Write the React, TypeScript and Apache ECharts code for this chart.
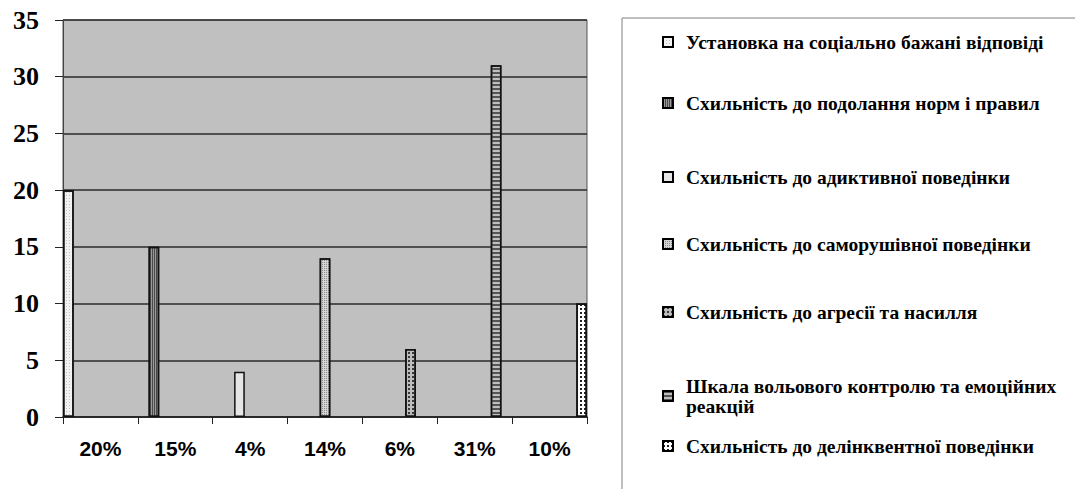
import React, { useEffect, useRef } from "react";
import * as echarts from "echarts";

const categories = ["20%", "15%", "4%", "14%", "6%", "31%", "10%"];
const seriesNames = [
  "Установка на соціально бажані відповіді",
  "Схильність до подолання норм і правил",
  "Схильність до адиктивної поведінки",
  "Схильність до саморушівної поведінки",
  "Схильність до агресії та насилля",
  "Шкала вольового контролю та емоційних реакцій",
  "Схильність до делінквентної поведінки",
];
const values = [20, 15, 4, 14, 6, 31, 10];
const yTicks = { min: 0, max: 35, interval: 5 };

// styles
const fills = ["#f2f2f2", "#9a9a9a", "#e6e6e6", "#d4d4d4", "#bdbdbd", "#bfbfbf", "#ffffff"];
const decals: any[] = [
  { symbol: "rect", symbolSize: 1, dashArrayX: [1, 2], dashArrayY: [1, 2], color: "rgba(160,160,160,0.6)" },
  { symbol: "rect", symbolSize: 1, dashArrayX: [1, 1], dashArrayY: [1, 0], color: "#4a4a4a" },
  null,
  { symbol: "rect", symbolSize: 1, dashArrayX: [1, 1], dashArrayY: [1, 1], color: "rgba(110,110,110,0.7)" },
  { symbol: "rect", symbolSize: 1, dashArrayX: [2, 2], dashArrayY: [2, 2], color: "#3a3a3a" },
  { symbol: "rect", symbolSize: 1, dashArrayX: [1, 0], dashArrayY: [2, 2], color: "#555555" },
  { symbol: "rect", symbolSize: 1, dashArrayX: [2, 2], dashArrayY: [2, 2], color: "#222222" },
];
// legend layout (top of each entry)
const legendTops = [32, 93, 167, 234, 302, 376, 436];

export default function App() {
  const ref = useRef<HTMLDivElement>(null);
  useEffect(() => {
    document.body.style.margin = "0";
    const chart = echarts.init(ref.current!, null, { renderer: "svg" });
    const series = seriesNames.map((name, i) => ({
      name,
      type: "bar",
      barGap: "0%",
      barCategoryGap: "0%",
      data: categories.map((_, j) => (j === i ? values[i] : null)),
      itemStyle: {
        color: fills[i],
        borderColor: "#111",
        borderWidth: 1.5,
        ...(decals[i] ? { decal: decals[i] } : {}),
      },
    }));
    const legends = seriesNames.map((name, i) => ({
      data: [name],
      orient: "vertical",
      left: 662,
      top: legendTops[i],
      padding: 0,
      itemWidth: 10,
      itemHeight: 10,
      icon: "rect",
      selectedMode: false,
      itemStyle: { borderColor: "#000", borderWidth: 2 },
      formatter: (n: string) =>
        n === seriesNames[5] ? "Шкала вольового контролю та емоційних\nреакцій" : n,
      textStyle: {
        fontFamily: "Liberation Serif",
        fontWeight: "bold",
        fontSize: 19.5,
        lineHeight: 20,
        color: "#000",
        padding: [0, 0, 0, 8],
      },
    }));
    chart.setOption({
      animation: false,
      backgroundColor: "#ffffff",
      grid: {
        left: 63,
        right: 488,
        top: 20,
        bottom: 72,
        show: true,
        backgroundColor: "#c0c0c0",
        borderColor: "#555",
        borderWidth: 1,
      },
      legend: legends,
      graphic: [
        {
          type: "rect",
          shape: { x: 622, y: 18, width: 520, height: 520 },
          style: { fill: "none", stroke: "#808080", lineWidth: 1 },
        },
      ],
      xAxis: {
        type: "category",
        data: categories,
        boundaryGap: true,
        axisLine: { show: true, lineStyle: { color: "#222", width: 1.5 } },
        axisTick: { show: true, length: 7, lineStyle: { color: "#222" } },
        axisLabel: {
          margin: 21,
          fontFamily: "Liberation Sans",
          fontWeight: "bold",
          fontSize: 21,
          color: "#000",
        },
      },
      yAxis: {
        type: "value",
        min: yTicks.min,
        max: yTicks.max,
        interval: yTicks.interval,
        axisLine: { show: true, lineStyle: { color: "#444", width: 1 } },
        axisTick: { show: true, length: 8, lineStyle: { color: "#222" } },
        splitLine: { show: true, lineStyle: { color: "#2b2b2b", width: 1.5 } },
        axisLabel: {
          margin: 24,
          fontFamily: "Liberation Serif",
          fontWeight: "bold",
          fontSize: 26,
          color: "#000",
        },
      },
      series,
    });
    return () => chart.dispose();
  }, []);
  return <div ref={ref} style={{ width: 1075, height: 489 }} />;
}
